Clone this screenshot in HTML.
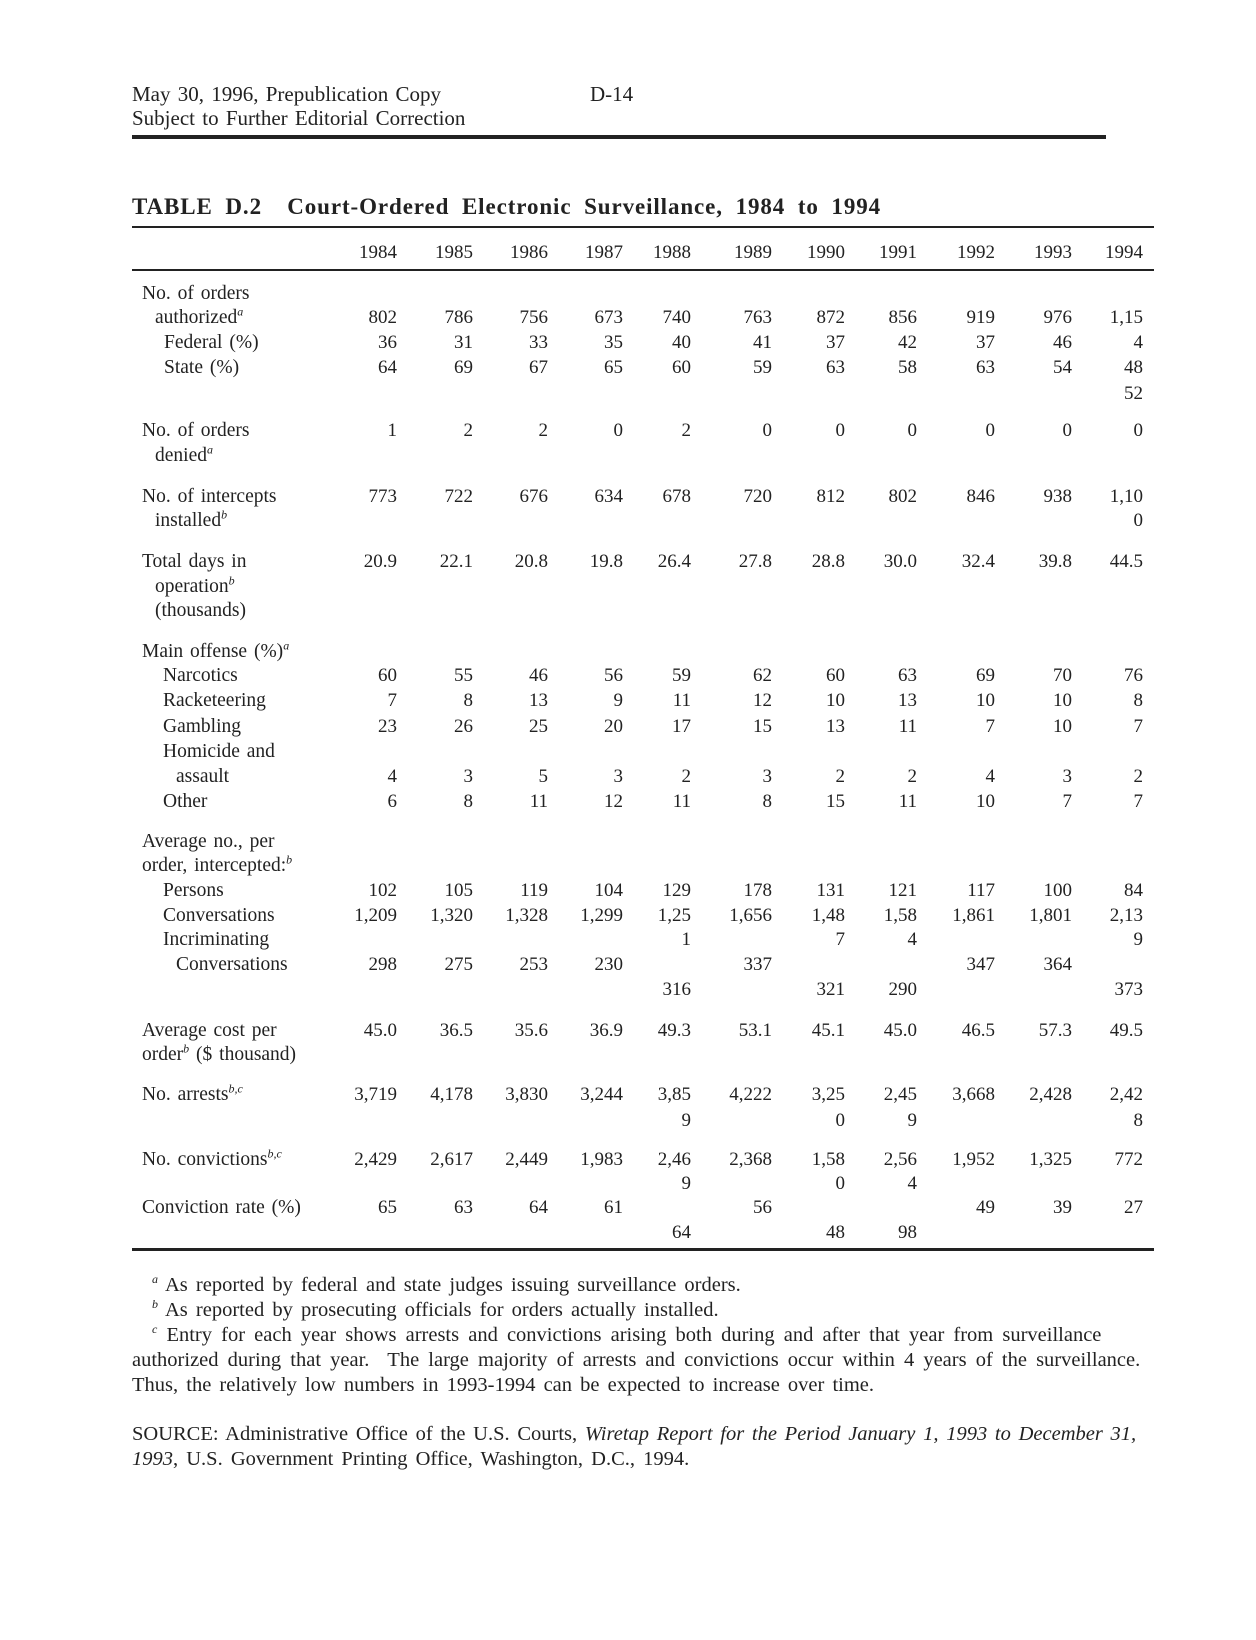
<!DOCTYPE html>
<html><head><meta charset="utf-8"><style>
body{margin:0;width:1256px;height:1640px;background:#fff;position:relative;font-family:"Liberation Serif",serif;color:#222;overflow:hidden}
.t{position:absolute;font-size:19.5px;line-height:25px;white-space:nowrap;word-spacing:2px}
.f{font-size:20.5px;word-spacing:2px}
.r{position:absolute;height:25px;left:0;width:1256px;font-size:19px;line-height:25px}
.r span{position:absolute;width:80px;text-align:right}
.r span:nth-child(1){left:317px}.r span:nth-child(2){left:393px}.r span:nth-child(3){left:468px}
.r span:nth-child(4){left:543px}.r span:nth-child(5){left:611px}.r span:nth-child(6){left:692px}
.r span:nth-child(7){left:765px}.r span:nth-child(8){left:837px}.r span:nth-child(9){left:915px}
.r span:nth-child(10){left:992px}.r span:nth-child(11){left:1063px}
.hr{position:absolute;background:#222}
sup{font-size:12px;font-style:italic;line-height:0}
</style></head><body>
<div class="t" style="left:132px;top:82px;font-size:21px">May 30, 1996, Prepublication Copy</div>
<div class="t" style="left:590px;top:82px;font-size:21px">D-14</div>
<div class="t" style="left:132px;top:106px;font-size:21px">Subject to Further Editorial Correction</div>
<div class="hr" style="left:132px;top:135px;width:974px;height:4px"></div>
<div class="t" style="left:132px;top:194px;font-size:23px;word-spacing:6px;letter-spacing:0.9px;font-weight:bold">TABLE D.2&nbsp; Court-Ordered Electronic Surveillance, 1984 to 1994</div>
<div class="hr" style="left:132px;top:226px;width:1022px;height:2px"></div>
<div class="r" style="top:240px"><span>1984</span><span>1985</span><span>1986</span><span>1987</span><span>1988</span><span>1989</span><span>1990</span><span>1991</span><span>1992</span><span>1993</span><span>1994</span></div>
<div class="hr" style="left:132px;top:269px;width:1022px;height:2px"></div>

<div class="t" style="left:142px;top:281px">No. of orders</div>
<div class="t" style="left:155px;top:305px">authorized<sup>a</sup></div>
<div class="t" style="left:164px;top:330px">Federal (%)</div>
<div class="t" style="left:164px;top:355px">State (%)</div>
<div class="t" style="left:142px;top:418px">No. of orders</div>
<div class="t" style="left:155px;top:443px">denied<sup>a</sup></div>
<div class="t" style="left:142px;top:484px">No. of intercepts</div>
<div class="t" style="left:155px;top:508px">installed<sup>b</sup></div>
<div class="t" style="left:142px;top:549px">Total days in</div>
<div class="t" style="left:155px;top:574px">operation<sup>b</sup></div>
<div class="t" style="left:155px;top:598px">(thousands)</div>
<div class="t" style="left:142px;top:639px">Main offense (%)<sup>a</sup></div>
<div class="t" style="left:163px;top:663px">Narcotics</div>
<div class="t" style="left:163px;top:688px">Racketeering</div>
<div class="t" style="left:163px;top:714px">Gambling</div>
<div class="t" style="left:163px;top:739px">Homicide and</div>
<div class="t" style="left:176px;top:764px">assault</div>
<div class="t" style="left:163px;top:789px">Other</div>
<div class="t" style="left:142px;top:829px">Average no., per</div>
<div class="t" style="left:142px;top:853px">order, intercepted:<sup>b</sup></div>
<div class="t" style="left:163px;top:878px">Persons</div>
<div class="t" style="left:163px;top:903px">Conversations</div>
<div class="t" style="left:163px;top:927px">Incriminating</div>
<div class="t" style="left:176px;top:952px">Conversations</div>
<div class="t" style="left:142px;top:1018px">Average cost per</div>
<div class="t" style="left:142px;top:1042px">order<sup>b</sup> ($ thousand)</div>
<div class="t" style="left:142px;top:1082px">No. arrests<sup>b,c</sup></div>
<div class="t" style="left:142px;top:1147px">No. convictions<sup>b,c</sup></div>
<div class="t" style="left:142px;top:1195px">Conviction rate (%)</div>

<div class="r" style="top:305px"><span>802</span><span>786</span><span>756</span><span>673</span><span>740</span><span>763</span><span>872</span><span>856</span><span>919</span><span>976</span><span>1,15</span></div>
<div class="r" style="top:330px"><span>36</span><span>31</span><span>33</span><span>35</span><span>40</span><span>41</span><span>37</span><span>42</span><span>37</span><span>46</span><span>4</span></div>
<div class="r" style="top:355px"><span>64</span><span>69</span><span>67</span><span>65</span><span>60</span><span>59</span><span>63</span><span>58</span><span>63</span><span>54</span><span>48</span></div>
<div class="r" style="top:381px"><span></span><span></span><span></span><span></span><span></span><span></span><span></span><span></span><span></span><span></span><span>52</span></div>
<div class="r" style="top:418px"><span>1</span><span>2</span><span>2</span><span>0</span><span>2</span><span>0</span><span>0</span><span>0</span><span>0</span><span>0</span><span>0</span></div>
<div class="r" style="top:484px"><span>773</span><span>722</span><span>676</span><span>634</span><span>678</span><span>720</span><span>812</span><span>802</span><span>846</span><span>938</span><span>1,10</span></div>
<div class="r" style="top:508px"><span></span><span></span><span></span><span></span><span></span><span></span><span></span><span></span><span></span><span></span><span>0</span></div>
<div class="r" style="top:549px"><span>20.9</span><span>22.1</span><span>20.8</span><span>19.8</span><span>26.4</span><span>27.8</span><span>28.8</span><span>30.0</span><span>32.4</span><span>39.8</span><span>44.5</span></div>
<div class="r" style="top:663px"><span>60</span><span>55</span><span>46</span><span>56</span><span>59</span><span>62</span><span>60</span><span>63</span><span>69</span><span>70</span><span>76</span></div>
<div class="r" style="top:688px"><span>7</span><span>8</span><span>13</span><span>9</span><span>11</span><span>12</span><span>10</span><span>13</span><span>10</span><span>10</span><span>8</span></div>
<div class="r" style="top:714px"><span>23</span><span>26</span><span>25</span><span>20</span><span>17</span><span>15</span><span>13</span><span>11</span><span>7</span><span>10</span><span>7</span></div>
<div class="r" style="top:764px"><span>4</span><span>3</span><span>5</span><span>3</span><span>2</span><span>3</span><span>2</span><span>2</span><span>4</span><span>3</span><span>2</span></div>
<div class="r" style="top:789px"><span>6</span><span>8</span><span>11</span><span>12</span><span>11</span><span>8</span><span>15</span><span>11</span><span>10</span><span>7</span><span>7</span></div>
<div class="r" style="top:878px"><span>102</span><span>105</span><span>119</span><span>104</span><span>129</span><span>178</span><span>131</span><span>121</span><span>117</span><span>100</span><span>84</span></div>
<div class="r" style="top:903px"><span>1,209</span><span>1,320</span><span>1,328</span><span>1,299</span><span>1,25</span><span>1,656</span><span>1,48</span><span>1,58</span><span>1,861</span><span>1,801</span><span>2,13</span></div>
<div class="r" style="top:927px"><span></span><span></span><span></span><span></span><span>1</span><span></span><span>7</span><span>4</span><span></span><span></span><span>9</span></div>
<div class="r" style="top:952px"><span>298</span><span>275</span><span>253</span><span>230</span><span></span><span>337</span><span></span><span></span><span>347</span><span>364</span><span></span></div>
<div class="r" style="top:977px"><span></span><span></span><span></span><span></span><span>316</span><span></span><span>321</span><span>290</span><span></span><span></span><span>373</span></div>
<div class="r" style="top:1018px"><span>45.0</span><span>36.5</span><span>35.6</span><span>36.9</span><span>49.3</span><span>53.1</span><span>45.1</span><span>45.0</span><span>46.5</span><span>57.3</span><span>49.5</span></div>
<div class="r" style="top:1082px"><span>3,719</span><span>4,178</span><span>3,830</span><span>3,244</span><span>3,85</span><span>4,222</span><span>3,25</span><span>2,45</span><span>3,668</span><span>2,428</span><span>2,42</span></div>
<div class="r" style="top:1108px"><span></span><span></span><span></span><span></span><span>9</span><span></span><span>0</span><span>9</span><span></span><span></span><span>8</span></div>
<div class="r" style="top:1147px"><span>2,429</span><span>2,617</span><span>2,449</span><span>1,983</span><span>2,46</span><span>2,368</span><span>1,58</span><span>2,56</span><span>1,952</span><span>1,325</span><span>772</span></div>
<div class="r" style="top:1171px"><span></span><span></span><span></span><span></span><span>9</span><span></span><span>0</span><span>4</span><span></span><span></span><span></span></div>
<div class="r" style="top:1195px"><span>65</span><span>63</span><span>64</span><span>61</span><span></span><span>56</span><span></span><span></span><span>49</span><span>39</span><span>27</span></div>
<div class="r" style="top:1220px"><span></span><span></span><span></span><span></span><span>64</span><span></span><span>48</span><span>98</span><span></span><span></span><span></span></div>
<div class="hr" style="left:132px;top:1248px;width:1022px;height:3px"></div>

<div class="t f" style="left:152px;top:1273px;word-spacing:3px"><sup>a</sup> As reported by federal and state judges issuing surveillance orders.</div>
<div class="t f" style="left:152px;top:1298px;word-spacing:3px"><sup>b</sup> As reported by prosecuting officials for orders actually installed.</div>
<div class="t f" style="left:152px;top:1323px;word-spacing:4px"><sup>c</sup> Entry for each year shows arrests and convictions arising both during and after that year from surveillance</div>
<div class="t f" style="left:132px;top:1348px;word-spacing:4px">authorized during that year.&nbsp; The large majority of arrests and convictions occur within 4 years of the surveillance.</div>
<div class="t f" style="left:132px;top:1373px;word-spacing:3px">Thus, the relatively low numbers in 1993-1994 can be expected to increase over time.</div>
<div class="t f" style="left:132px;top:1422px;word-spacing:2.6px">SOURCE: Administrative Office of the U.S. Courts, <i>Wiretap Report for the Period January 1, 1993 to December 31,</i></div>
<div class="t f" style="left:132px;top:1447px;word-spacing:3px"><i>1993</i>, U.S. Government Printing Office, Washington, D.C., 1994.</div>
</body></html>
